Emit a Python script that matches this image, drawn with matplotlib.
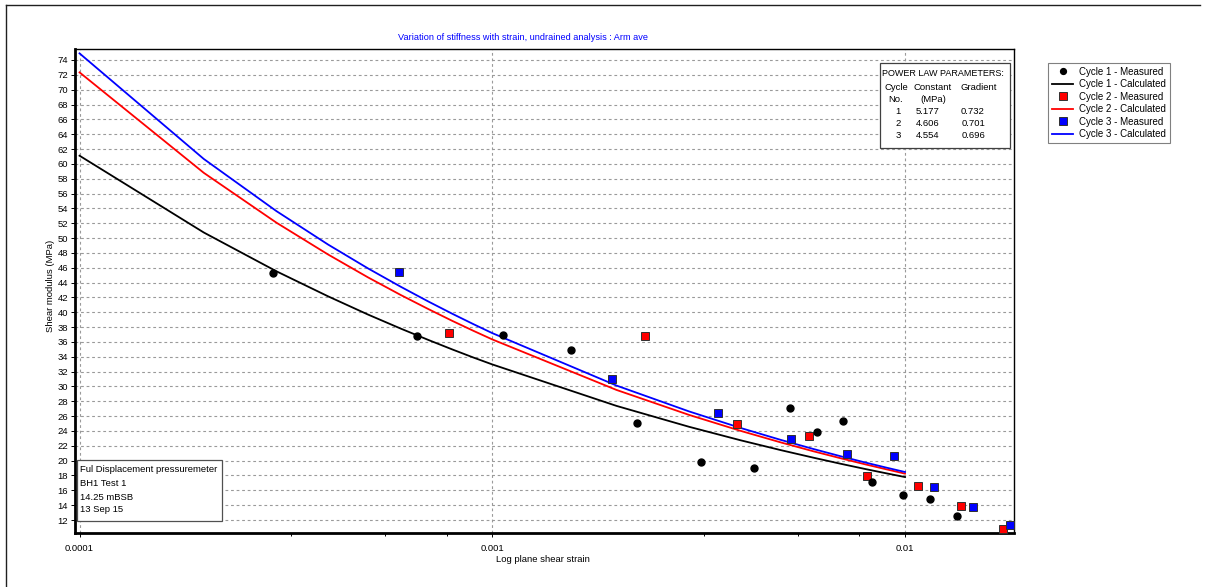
import matplotlib
matplotlib.use('Agg')
import matplotlib.pyplot as plt
from matplotlib.lines import Line2D
from matplotlib.patches import Rectangle
from matplotlib.ticker import FixedLocator, NullFormatter, FixedFormatter

plt.rcParams['font.family'] = ['Liberation Sans', 'DejaVu Sans']

# ---------------- data ----------------
title_text = "Variation of stiffness with strain, undrained analysis : Arm ave"
x_label = "Log plane shear strain"
y_label = "Shear modulus (MPa)"

calc_strain = [0.0001, 0.0002, 0.0003, 0.0004, 0.0005, 0.0006, 0.0007, 0.0008, 0.0009,
               0.001, 0.002, 0.003, 0.004, 0.005, 0.006, 0.007, 0.008, 0.009, 0.01]
c1_calc = [61.10, 50.75, 45.52, 42.15, 39.69, 37.80, 36.27, 34.99, 33.90, 32.97,
           27.38, 24.56, 22.74, 21.42, 20.40, 19.57, 18.88, 18.30, 17.79]
c2_calc = [72.33, 58.79, 52.07, 47.79, 44.70, 42.33, 40.43, 38.84, 37.50, 36.34,
           29.53, 26.16, 24.01, 22.46, 21.26, 20.31, 19.51, 18.84, 18.25]
c3_calc = [74.89, 60.66, 53.63, 49.13, 45.91, 43.44, 41.45, 39.80, 38.40, 37.19,
           30.12, 26.63, 24.40, 22.80, 21.57, 20.58, 19.76, 19.07, 18.47]

c1_x = [2.94e-4, 6.56e-4, 1.064e-3, 1.552e-3, 2.239e-3, 3.20e-3, 4.30e-3, 5.265e-3,
        6.12e-3, 7.09e-3, 8.32e-3, 9.87e-3, 1.15e-2, 1.336e-2]
c1_y = [45.33, 36.80, 36.93, 34.91, 25.11, 19.86, 19.01, 27.13, 23.82, 25.34,
        17.08, 15.37, 14.83, 12.54]
c2_x = [7.84e-4, 2.345e-3, 3.91e-3, 5.85e-3, 8.08e-3, 1.073e-2, 1.367e-2, 1.724e-2]
c2_y = [37.24, 36.84, 24.94, 23.36, 17.97, 16.62, 13.92, 10.74]
c3_x = [5.935e-4, 1.947e-3, 3.518e-3, 5.285e-3, 7.25e-3, 9.39e-3, 1.174e-2,
        1.459e-2, 1.797e-2]
c3_y = [45.38, 31.07, 26.46, 22.96, 20.93, 20.62, 16.45, 13.79, 11.28]

legend_labels = ["Cycle 1 - Measured", "Cycle 1 - Calculated", "Cycle 2 - Measured",
                 "Cycle 2 - Calculated", "Cycle 3 - Measured", "Cycle 3 - Calculated"]

pl_cycles = ["1", "2", "3"]
pl_constant = ["5.177", "4.606", "4.554"]
pl_gradient = ["0.732", "0.701", "0.696"]

info_lines = ["Ful Displacement pressuremeter", "BH1 Test 1", "14.25 mBSB", "13 Sep 15"]

y_ticks = list(range(12, 75, 2))
x_major = [0.0001, 0.001, 0.01]
x_major_labels = ["0.0001", "0.001", "0.01"]
x_minor = [3.25e-4, 5.5e-4, 7.75e-4, 3.25e-3, 5.5e-3, 7.75e-3]

# ---------------- figure ----------------
W, H = 1208, 587
fig = plt.figure(figsize=(W / 100, H / 100), dpi=100)

def fx(px):
    return px / W

def fy(py):
    return 1 - py / H

ax = fig.add_axes([fx(75), fy(533), fx(1014) - fx(75), fy(49) - fy(533)])
ax.set_xscale('log')
ax.set_xlim(9.75e-5, 0.01837)
ax.set_ylim(10.25, 75.48)

grid_kw = dict(color='#9a9a9a', linewidth=0.8, linestyle=(0, (2.5, 2.5)))
for yv in y_ticks:
    ax.axhline(yv, zorder=0.5, **grid_kw)
for xv in x_major:
    ax.axvline(xv, zorder=0.5, **grid_kw)

lw = 1.3
ax.plot(calc_strain, c1_calc, color='black', lw=lw, zorder=2)
ax.plot(calc_strain, c2_calc, color='#ff0000', lw=lw, zorder=2)
ax.plot(calc_strain, c3_calc, color='#0000ff', lw=lw, zorder=2)

ax.plot(c2_x, c2_y, ls='none', marker='s', ms=6.3, mfc='#ff0000', mec='#303030', mew=0.7, zorder=3)
ax.plot(c3_x, c3_y, ls='none', marker='s', ms=6.3, mfc='#0000ff', mec='#303030', mew=0.7, zorder=3)
ax.plot(c1_x, c1_y, ls='none', marker='o', ms=5.0, mfc='black', mec='black', zorder=4)

ax.xaxis.set_major_locator(FixedLocator(x_major))
ax.xaxis.set_major_formatter(FixedFormatter(x_major_labels))
ax.xaxis.set_minor_locator(FixedLocator(x_minor))
ax.xaxis.set_minor_formatter(NullFormatter())
ax.yaxis.set_major_locator(FixedLocator(y_ticks))
ax.yaxis.set_minor_locator(FixedLocator([]))

ax.tick_params(axis='both', which='major', direction='out', length=3, width=0.7,
               labelsize=6.8, colors='black')
ax.tick_params(axis='x', which='major', pad=5)
ax.tick_params(axis='y', which='major', pad=2)
ax.tick_params(axis='x', which='minor', direction='out', length=2.5, width=0.7)

for s in ['left', 'bottom']:
    ax.spines[s].set_linewidth(2.0)
for s in ['top', 'right']:
    ax.spines[s].set_linewidth(1.0)

fig.text(fx(523), fy(37), title_text, color='#0000ff', fontsize=6.6,
         ha='center', va='center')
fig.text(fx(543), fy(559), x_label, fontsize=6.8, ha='center', va='center')
fig.text(fx(50), fy(286), y_label, fontsize=6.8, ha='center', va='center', rotation=90)

# ---- legend ----
handles = [
    Line2D([], [], ls='none', marker='o', ms=4.2, mfc='black', mec='black'),
    Line2D([], [], color='black', lw=1.3),
    Line2D([], [], ls='none', marker='s', ms=5.3, mfc='#ff0000', mec='#303030', mew=0.7),
    Line2D([], [], color='#ff0000', lw=1.3),
    Line2D([], [], ls='none', marker='s', ms=5.3, mfc='#0000ff', mec='#303030', mew=0.7),
    Line2D([], [], color='#0000ff', lw=1.3),
]
leg = fig.legend(handles, legend_labels, loc='upper left',
                 bbox_to_anchor=(fx(1048), fy(63)), bbox_transform=fig.transFigure,
                 fontsize=7.0, frameon=True, fancybox=False, shadow=False,
                 borderpad=0.4, labelspacing=0.25, handlelength=2.2,
                 handletextpad=0.6, borderaxespad=0.0)
leg.get_frame().set_edgecolor('#606060')
leg.get_frame().set_linewidth(0.8)

# ---- power law box ----
fig.patches.append(Rectangle((fx(880), fy(148)), fx(1010) - fx(880), fy(63) - fy(148),
                             transform=fig.transFigure, facecolor='white',
                             edgecolor='#404040', linewidth=0.9, zorder=5))
tk = dict(fontsize=6.8, va='center', zorder=6)
fig.text(fx(882), fy(73), "POWER LAW PARAMETERS:", ha='left', fontsize=6.5,
         va='center', zorder=6)
fig.text(fx(896), fy(87), "Cycle", ha='center', **tk)
fig.text(fx(933), fy(87), "Constant", ha='center', **tk)
fig.text(fx(979), fy(87), "Gradient", ha='center', **tk)
fig.text(fx(896), fy(99), "No.", ha='center', **tk)
fig.text(fx(933), fy(99), "(MPa)", ha='center', **tk)
row_y = [111, 123, 136]
for i in range(3):
    fig.text(fx(898), fy(row_y[i]), pl_cycles[i], ha='center', **tk)
    fig.text(fx(928), fy(row_y[i]), pl_constant[i], ha='center', **tk)
    fig.text(fx(973), fy(row_y[i]), pl_gradient[i], ha='center', **tk)

# ---- info box ----
fig.patches.append(Rectangle((fx(77), fy(521)), fx(222) - fx(77), fy(460) - fy(521),
                             transform=fig.transFigure, facecolor='white',
                             edgecolor='#505050', linewidth=0.9, zorder=5))
info_y = [470, 484, 497, 510]
for i, t in enumerate(info_lines):
    fig.text(fx(80), fy(info_y[i]), t, ha='left', **tk)

# ---- outer frame (top and left only) ----
fig.lines.append(Line2D([fx(6), fx(1200)], [fy(5), fy(5)], transform=fig.transFigure,
                        color='#202020', lw=1.0))
fig.lines.append(Line2D([fx(6), fx(6)], [fy(5), fy(587)], transform=fig.transFigure,
                        color='#202020', lw=1.0))

fig.savefig('out.png', dpi=100, facecolor='white')
